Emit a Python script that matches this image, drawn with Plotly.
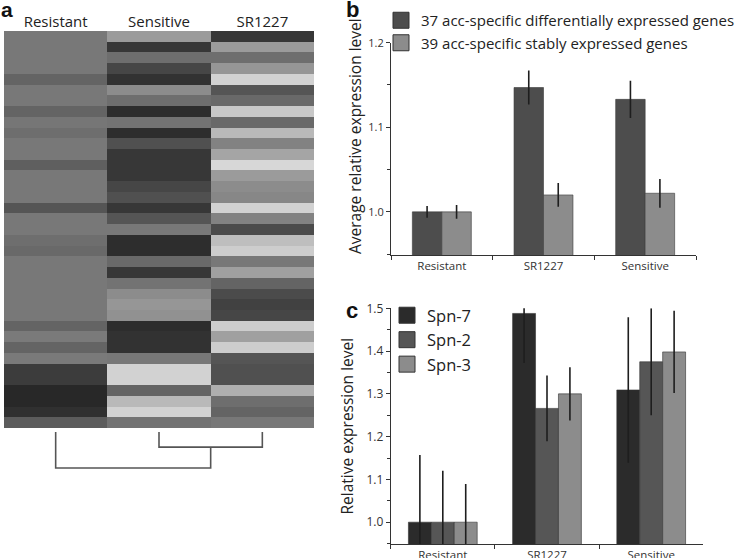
import plotly.graph_objects as go

W, H = 743, 558
def px(x): return x / W
def py(y): return 1 - y / H

# ---------------- data ----------------
heat_columns = ["Resistant", "Sensitive", "SR1227"]
# grey level (0 = black, 255 = white) of each of the 37 gene rows, top to bottom
heat_resistant = [120, 120, 120, 120, 100, 120, 120, 100, 118, 110, 120, 120, 95, 120, 120, 120, 85, 120, 120, 110,
                  105, 120, 120, 120, 120, 120, 120, 100, 122, 100, 122, 60, 60, 40, 40, 48, 92]
heat_sensitive = [155, 55, 110, 70, 50, 140, 110, 45, 115, 45, 80, 55, 55, 55, 70, 80, 55, 85, 120, 45,
                  45, 105, 55, 115, 140, 150, 145, 45, 50, 50, 120, 210, 210, 100, 185, 210, 115]
heat_sr1227 = [55, 155, 110, 150, 210, 85, 105, 200, 105, 185, 130, 165, 215, 155, 140, 135, 210, 130, 75, 190,
               205, 120, 160, 100, 75, 65, 70, 205, 160, 205, 85, 80, 80, 175, 110, 100, 120]

# dendrogram: leaf order and merge heights (relative)
dendro_leaves = [0, 1, 2]          # Resistant, Sensitive, SR1227
merge_sens_sr = 0.42
merge_all = 1.0

bar_categories = ["Resistant", "SR1227", "Sensitive"]
b_diff = [1.0, 1.147, 1.133]
b_diff_err = [0.007, 0.020, 0.022]
b_stable = [1.0, 1.020, 1.022]
b_stable_err = [0.008, 0.014, 0.017]
b_names = ["37 acc-specific differentially expressed genes", "39 acc-specific stably expressed genes"]

c_spn7 = [1.0, 1.488, 1.309]
c_spn7_err = [0.157, 0.116, 0.17]
c_spn2 = [1.0, 1.266, 1.375]
c_spn2_err = [0.12, 0.077, 0.125]
c_spn3 = [1.0, 1.300, 1.398]
c_spn3_err = [0.089, 0.062, 0.096]
c_names = ["Spn-7", "Spn-2", "Spn-3"]

FONT = "Open Sans"
AX = "#333333"

fig = go.Figure()

# ---------------- panel a: heatmap ----------------
z = [[r, s, t] for r, s, t in zip(heat_resistant, heat_sensitive, heat_sr1227)]
fig.add_trace(go.Heatmap(
    z=z, x=[0, 1, 2], y=list(range(len(z))),
    colorscale=[[0, "#000000"], [1, "#ffffff"]], zmin=0, zmax=255,
    showscale=False, xaxis="x", yaxis="y", hoverinfo="skip"))

# dendrogram lines from merge heights
l0, l1, l2 = dendro_leaves
mid = (l1 + l2) / 2
fig.add_trace(go.Scatter(
    x=[l1, l1, l2, l2, None, l0, l0, mid, mid],
    y=[0, merge_sens_sr, merge_sens_sr, 0, None, 0, merge_all, merge_all, merge_sens_sr],
    mode="lines", line=dict(color="#555555", width=1.6), showlegend=False,
    xaxis="x4", yaxis="y4", hoverinfo="skip"))

# ---------------- panel b ----------------
b_cols = ["#4d4d4d", "#8c8c8c"]
for vals, errs, col, off in [(b_diff, b_diff_err, b_cols[0], -0.29), (b_stable, b_stable_err, b_cols[1], 0.0)]:
    fig.add_trace(go.Bar(
        x=bar_categories, y=vals, width=0.29, offset=off,
        marker=dict(color=col, line=dict(color="#3a3a3a", width=0.6)),
        error_y=dict(type="data", array=errs, width=0, thickness=1.6, color="#1e1e1e"),
        showlegend=False, xaxis="x2", yaxis="y2"))
for name, col in zip(b_names, b_cols):
    fig.add_trace(go.Scatter(
        x=[None], y=[None], mode="markers", name=name,
        marker=dict(symbol="square", size=16, color=col, line=dict(color="#333333", width=1)),
        xaxis="x2", yaxis="y2", legend="legend"))

# ---------------- panel c ----------------
c_cols = ["#2b2b2b", "#565656", "#8c8c8c"]
for vals, errs, col, off in [(c_spn7, c_spn7_err, c_cols[0], -0.33),
                             (c_spn2, c_spn2_err, c_cols[1], -0.11),
                             (c_spn3, c_spn3_err, c_cols[2], 0.11)]:
    fig.add_trace(go.Bar(
        x=bar_categories, y=vals, width=0.22, offset=off,
        marker=dict(color=col, line=dict(color="#333333", width=0.6)),
        error_y=dict(type="data", array=errs, width=0, thickness=1.6, color="#1e1e1e"),
        showlegend=False, xaxis="x3", yaxis="y3"))
for name, col in zip(c_names, c_cols):
    fig.add_trace(go.Scatter(
        x=[None], y=[None], mode="markers", name=name,
        marker=dict(symbol="square", size=16, color=col, line=dict(color="#333333", width=1)),
        xaxis="x3", yaxis="y3", legend="legend2"))

bar_x = dict(type="category", categoryorder="array", categoryarray=bar_categories,
             showline=True, linecolor=AX, linewidth=1, ticks="outside", ticklen=4,
             tickcolor=AX, tickson="boundaries", showgrid=False, zeroline=False, automargin=False,
             tickfont=dict(family=FONT, size=11.5, color="#333333"), fixedrange=True)
bar_y = dict(showline=True, linecolor=AX, linewidth=1, ticks="outside", ticklen=4, tickcolor=AX,
             showgrid=False, zeroline=False, fixedrange=True, automargin=False,
             minor=dict(dtick=0.05, ticks="outside", ticklen=3, tickcolor=AX))

fig.update_layout(
    template="none",
    width=W, height=H, margin=dict(l=0, r=0, t=0, b=0, pad=0, autoexpand=False),
    paper_bgcolor="white", plot_bgcolor="white",
    font=dict(family=FONT, color="#222222"),
    barmode="overlay",
    xaxis=dict(domain=[px(4), px(314)], range=[-0.5, 2.5], side="top",
               tickvals=[0, 1, 2], ticktext=heat_columns, ticks="", showgrid=False,
               zeroline=False, showline=False, tickfont=dict(family=FONT, size=15, color="#222222"),
               anchor="y", automargin=False),
    yaxis=dict(domain=[py(428), py(31)], range=[36.5, -0.5], visible=False, anchor="x", automargin=False),
    xaxis4=dict(domain=[px(4), px(314)], range=[-0.5, 2.5], visible=False, anchor="y4", automargin=False),
    yaxis4=dict(domain=[py(471.6), py(428.4)], range=[1.1, -0.1], visible=False, anchor="x4", automargin=False),
    xaxis2=dict(bar_x, domain=[px(391), px(696)], range=[-0.5, 2.5], anchor="y2"),
    yaxis2=dict(bar_y, domain=[py(255), py(42.7)], range=[0.949, 1.2], tickvals=[1.0, 1.1, 1.2],
                ticktext=["1.0", "1.1", "1.2"], tickfont=dict(family=FONT, size=11, color="#333333"),
                anchor="x2"),
    xaxis3=dict(bar_x, domain=[px(390.7), px(703.3)], range=[-0.5, 2.5], anchor="y3"),
    yaxis3=dict(bar_y, domain=[py(544), py(308.3)], range=[0.949, 1.5],
                tickvals=[1.0, 1.1, 1.2, 1.3, 1.4, 1.5],
                ticktext=["1.0", "1.1", "1.2", "1.3", "1.4", "1.5"],
                tickfont=dict(family=FONT, size=12, color="#333333"),
                title=dict(text="Relative expression level", font=dict(family=FONT, size=15.5, color="#222222"),
                           standoff=8),
                anchor="x3"),
    legend=dict(x=px(381), y=py(4), xanchor="left", yanchor="top", itemsizing="trace",
                font=dict(family=FONT, size=15, color="#222222"), bgcolor="rgba(0,0,0,0)",
                tracegroupgap=0, itemclick=False, borderwidth=0),
    legend2=dict(x=px(387), y=py(298), xanchor="left", yanchor="top", itemsizing="trace",
                 font=dict(family=FONT, size=16.5, color="#222222"), bgcolor="rgba(0,0,0,0)",
                 tracegroupgap=0, itemclick=False, borderwidth=0),
    annotations=[
        dict(text="<b>a</b>", x=px(-1), y=py(-4), xref="paper", yref="paper", xanchor="left", yanchor="top",
             showarrow=False, font=dict(family="Liberation Sans", size=21, color="#111111")),
        dict(text="<b>b</b>", x=px(344), y=py(-5), xref="paper", yref="paper", xanchor="left", yanchor="top",
             showarrow=False, font=dict(family="Liberation Sans", size=22, color="#111111")),
        dict(text="<b>c</b>", x=px(344), y=py(296), xref="paper", yref="paper", xanchor="left", yanchor="top",
             showarrow=False, font=dict(family="Liberation Sans", size=22, color="#111111")),
        dict(text="Average relative expression level", x=px(355), y=py(136), xref="paper", yref="paper",
             xanchor="center", yanchor="middle", textangle=-90, showarrow=False,
             font=dict(family=FONT, size=15.5, color="#222222")),
    ],
)

fig.write_html("out.html", config={"displayModeBar": False},
               post_script="document.body.style.margin='0';")
